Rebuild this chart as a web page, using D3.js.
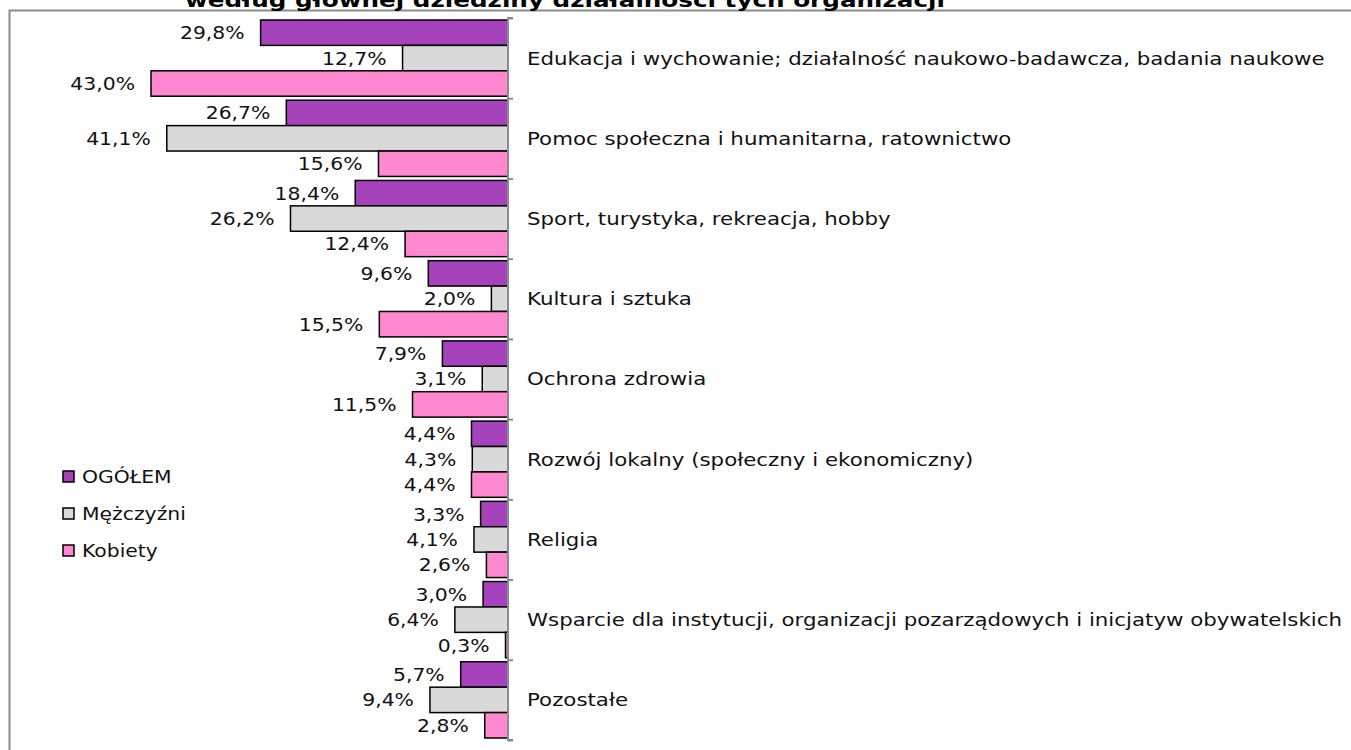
<!DOCTYPE html>
<html>
<head>
<meta charset="utf-8">
<script src="https://cdn.jsdelivr.net/npm/d3@7"></script>
<style>
  body { margin: 0; background: #fff; }
  svg { display: block; font-family: "DejaVu Sans", Verdana, sans-serif; }
</style>
</head>
<body>
<svg id="chart" width="1351" height="750"></svg>
<script>
// chart data
const categories = [
  'Edukacja i wychowanie; działalność naukowo-badawcza, badania naukowe',
  'Pomoc społeczna i humanitarna, ratownictwo',
  'Sport, turystyka, rekreacja, hobby',
  'Kultura i sztuka',
  'Ochrona zdrowia',
  'Rozwój lokalny (społeczny i ekonomiczny)',
  'Religia',
  'Wsparcie dla instytucji, organizacji pozarządowych i inicjatyw obywatelskich',
  'Pozostałe'
];
const seriesNames = ['OGÓŁEM', 'Mężczyźni', 'Kobiety'];
const ogolem    = [29.8, 26.7, 18.4, 9.6, 7.9, 4.4, 3.3, 3.0, 5.7];
const mezczyzni = [12.7, 41.1, 26.2, 2.0, 3.1, 4.3, 4.1, 6.4, 9.4];
const kobiety   = [43.0, 15.6, 12.4, 15.5, 11.5, 4.4, 2.6, 0.3, 2.8];
const colors = ['#a642bc', '#d9d9d9', '#ff88d0'];
const titleText = 'według głównej dziedziny działalności tych organizacji';

const series = [ogolem, mezczyzni, kobiety];

const svg = d3.select('#chart');

// frame + title (cut off at the top like the original)
svg.append('rect')
  .attr('x', 9.5).attr('y', 10.5)
  .attr('width', 1400).attr('height', 800)
  .attr('fill', 'none').attr('stroke', '#8c8c8c').attr('stroke-width', 2);

const title = svg.append('text')
  .attr('x', 565).attr('y', 7)
  .attr('text-anchor', 'middle')
  .attr('font-weight', 'bold')
  .attr('font-size', 19)
  .text(titleText);

const x0 = 508;
const x = d3.scaleLinear().domain([0, 43]).range([x0, 151]);

const y = d3.scaleBand().domain(categories).range([18, 740]).paddingInner(0.05).paddingOuter(0.025);
const yInner = d3.scaleBand().domain(d3.range(3)).range([0, y.bandwidth()]);

const rows = [];
categories.forEach(function(c, i){
  series.forEach(function(s, j){
    rows.push({cat: c, s: j, v: s[i]});
  });
});

svg.append('g').selectAll('rect')
  .data(rows)
  .join('rect')
  .attr('x', d => x(d.v))
  .attr('y', d => y(d.cat) + yInner(d.s))
  .attr('width', d => x0 - x(d.v))
  .attr('height', yInner.bandwidth())
  .attr('fill', d => colors[d.s])
  .attr('stroke', '#000')
  .attr('stroke-width', 1.5);

const valueLabels = svg.append('g').selectAll('text')
  .data(rows)
  .join('text')
  .attr('x', d => x(d.v) - 16)
  .attr('y', d => y(d.cat) + yInner(d.s) + yInner.bandwidth() / 2)
  .attr('dy', '0.36em')
  .attr('text-anchor', 'end')
  .attr('font-size', 18)
  .attr('fill', '#111')
  .text(d => d.v.toFixed(1).replace('.', ',') + '%');

// category axis on the right of the zero line
const yAxisScale = d3.scaleLinear().domain([0, categories.length]).range([18, 740]);
const axis = d3.axisRight(yAxisScale).ticks(categories.length).tickSize(5).tickFormat('');
const gAxis = svg.append('g').attr('transform', `translate(${x0},0)`).call(axis);
gAxis.selectAll('path, line').attr('stroke', '#8c8c8c').attr('stroke-width', 2);
gAxis.select('.domain').attr('d', 'M5,18H0V740H5');

const catLabels = svg.append('g').selectAll('text')
  .data(categories)
  .join('text')
  .attr('x', 527)
  .attr('y', d => y(d) + y.bandwidth() / 2)
  .attr('dy', '0.36em')
  .attr('font-size', 18)
  .attr('fill', '#111')
  .text(d => d);

// legend
const legend = svg.append('g').attr('transform', 'translate(63,477)');
const li = legend.selectAll('g').data(seriesNames).join('g')
  .attr('transform', (d, i) => `translate(0,${i * 37})`);
li.append('rect')
  .attr('x', 0).attr('y', -6)
  .attr('width', 11).attr('height', 11)
  .attr('fill', (d, i) => colors[i])
  .attr('stroke', '#000').attr('stroke-width', 1.5);
const legendLabels = li.append('text')
  .attr('x', 19).attr('dy', '0.36em')
  .attr('font-size', 18)
  .attr('fill', '#111')
  .text(d => d);

// the original text is drawn wider than DejaVu, stretch it a bit
function stretch(sel, k){
  sel.each(function(){
    const w = this.getComputedTextLength();
    d3.select(this).attr('textLength', w * k).attr('lengthAdjust', 'spacingAndGlyphs');
  });
}
let longest = 0;
catLabels.each(function(){ longest = Math.max(longest, this.getComputedTextLength()); });
const k = 815 / longest;
stretch(catLabels, k);
stretch(valueLabels, 1.13);
stretch(legendLabels, 1.13);
stretch(title, 760 / title.node().getComputedTextLength());
</script>
</body>
</html>
